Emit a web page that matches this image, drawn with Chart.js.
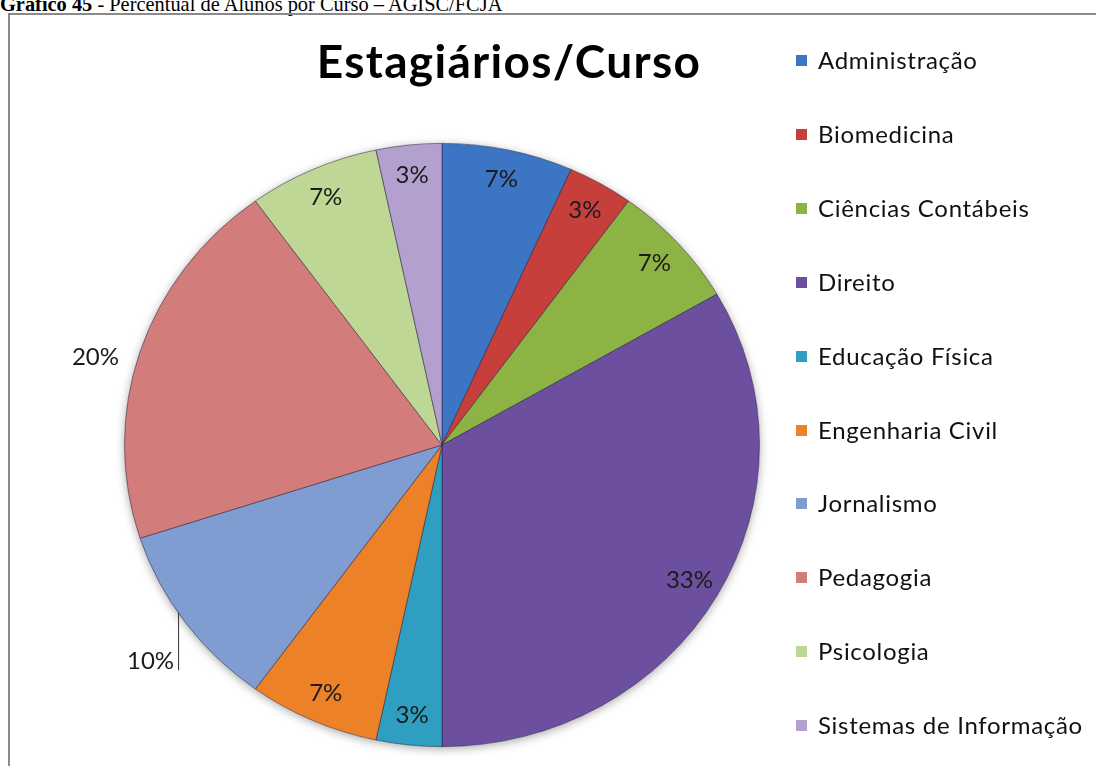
<!DOCTYPE html>
<html>
<head>
<meta charset="utf-8">
<script src="https://cdn.jsdelivr.net/npm/chart.js@4.4.1/dist/chart.umd.min.js"></script>
<style>
    body { margin: 0; width: 1096px; height: 766px; overflow: hidden; background: #fff; position: relative; }
    #header { position: absolute; left: 0; top: -6px; font: 20.4px/20.4px "Liberation Serif"; white-space: nowrap; color: #000; }
    #frame { position: absolute; left: 8px; top: 13px; width: 1100px; height: 800px; border: 2px solid #8a8a8a; box-sizing: border-box; }
    #box { position: absolute; left: 0; top: 0; width: 1096px; height: 766px; }
    #title { position: absolute; left: 0; width: 1018px; top: 38px; text-align: center; font: bold 46px/46px Lato; letter-spacing: 1.3px; color: #000; }
    #legend { position: absolute; left: 796px; top: 0; }
    .item { position: absolute; left: 0; height: 24px; white-space: nowrap; }
    .item .sw { position: absolute; left: 0; top: 7px; width: 11px; height: 11px; }
    .item .tx { position: absolute; left: 22px; top: 0; font: 24px/24px Lato; letter-spacing: 0.7px; color: #111; }
</style>
</head>
<body>
<div id="header"><b>Gráfico 45</b> - Percentual de Alunos por Curso – AGISC/FCJA</div>
<div id="frame"></div>
<div id="box"><canvas id="myChart"></canvas></div>
<div id="title">Estagiários/Curso</div>
<div id="legend"></div>
<script>
    // courses and number of interns per course (30 in total)
    var courses = ['Administração', 'Biomedicina', 'Ciências Contábeis', 'Direito', 'Educação Física',
                   'Engenharia Civil', 'Jornalismo', 'Pedagogia', 'Psicologia', 'Sistemas de Informação'];
    var students = [2, 1, 2, 10, 1, 2, 3, 6, 2, 1];
    var sliceColors = ['#3c75c3', '#c73f3a', '#8db345', '#6d4f9f', '#2e9fc0',
                       '#ec8128', '#809dd2', '#d27d7c', '#bfd795', '#b3a0cf'];

    var squash = 0.95;   // pie is drawn a little flatter than a circle
    var outside = { 6: { r: 1.165, a: -2, leader: true }, 7: { r: 1.13, a: -3 } };

    // flattens the pie and puts a soft shadow under it
    var ellipsePlugin = {
        id: 'ellipse',
        beforeDatasetsDraw: function(chart) {
            var ctx = chart.ctx;
            var arc0 = chart.getDatasetMeta(0).data[0];
            ctx.save();
            ctx.translate(arc0.x, arc0.y);
            ctx.scale(1, squash);
            ctx.translate(-arc0.x, -arc0.y);
            ctx.save();
            ctx.shadowColor = 'rgba(0,0,0,0.35)';
            ctx.shadowBlur = 10;
            ctx.shadowOffsetY = 2;
            ctx.beginPath();
            ctx.arc(arc0.x, arc0.y, arc0.outerRadius, 0, Math.PI * 2);
            ctx.fillStyle = '#fff';
            ctx.fill();
            ctx.restore();
        },
        afterDatasetsDraw: function(chart) {
            chart.ctx.restore();
        }
    };

    // percentage labels on / next to the slices
    var labelPlugin = {
        id: 'pctLabels',
        afterDraw: function(chart) {
            var ctx = chart.ctx;
            var meta = chart.getDatasetMeta(0);
            var total = students.reduce(function(s, v) { return s + v; }, 0);
            ctx.save();
            ctx.font = '24px Lato';
            ctx.fillStyle = '#1b1b1b';
            ctx.textAlign = 'center';
            ctx.textBaseline = 'middle';
            meta.data.forEach(function(arc, i) {
                var ang = (arc.startAngle + arc.endAngle) / 2;
                var f = 0.9;
                var out = outside[i];
                if (out) {
                    f = out.r;
                    ang += out.a * Math.PI / 180;
                }
                var x = arc.x + Math.cos(ang) * arc.outerRadius * f;
                var y = arc.y + Math.sin(ang) * arc.outerRadius * f * squash;
                var txt = Math.round(students[i] / total * 100) + '%';
                ctx.fillText(txt, x, y);
                if (out && out.leader) {
                    var lx = x + ctx.measureText(txt).width / 2 + 4;
                    var dx = lx - arc.x;
                    var edgeY = arc.y + Math.sqrt(arc.outerRadius * arc.outerRadius - dx * dx) * squash;
                    ctx.beginPath();
                    ctx.strokeStyle = '#333';
                    ctx.lineWidth = 1;
                    ctx.moveTo(lx + 0.5, y + 9);
                    ctx.lineTo(lx + 0.5, edgeY);
                    ctx.stroke();
                }
            });
            ctx.restore();
        }
    };

    var chart = new Chart(document.getElementById('myChart'), {
        type: 'pie',
        data: {
            labels: courses,
            datasets: [{
                data: students,
                backgroundColor: sliceColors,
                borderColor: 'rgba(40,30,60,0.55)',
                borderWidth: 1
            }]
        },
        options: {
            responsive: true,
            maintainAspectRatio: false,
            animation: false,
            layout: { padding: { left: 124, right: 336, top: 127, bottom: 3 } },
            plugins: {
                legend: { display: false },
                tooltip: { enabled: false },
                title: { display: false }
            }
        },
        plugins: [ellipsePlugin, labelPlugin]
    });

    // legend on the right, built from the same arrays
    var legend = document.getElementById('legend');
    courses.forEach(function(name, i) {
        var row = document.createElement('div');
        row.className = 'item';
        row.style.top = (60 + i * 73.9 - 12) + 'px';
        row.innerHTML = '<span class="sw" style="background:' + sliceColors[i] + '"></span><span class="tx">' + name + '</span>';
        legend.appendChild(row);
    });
</script>
</body>
</html>
